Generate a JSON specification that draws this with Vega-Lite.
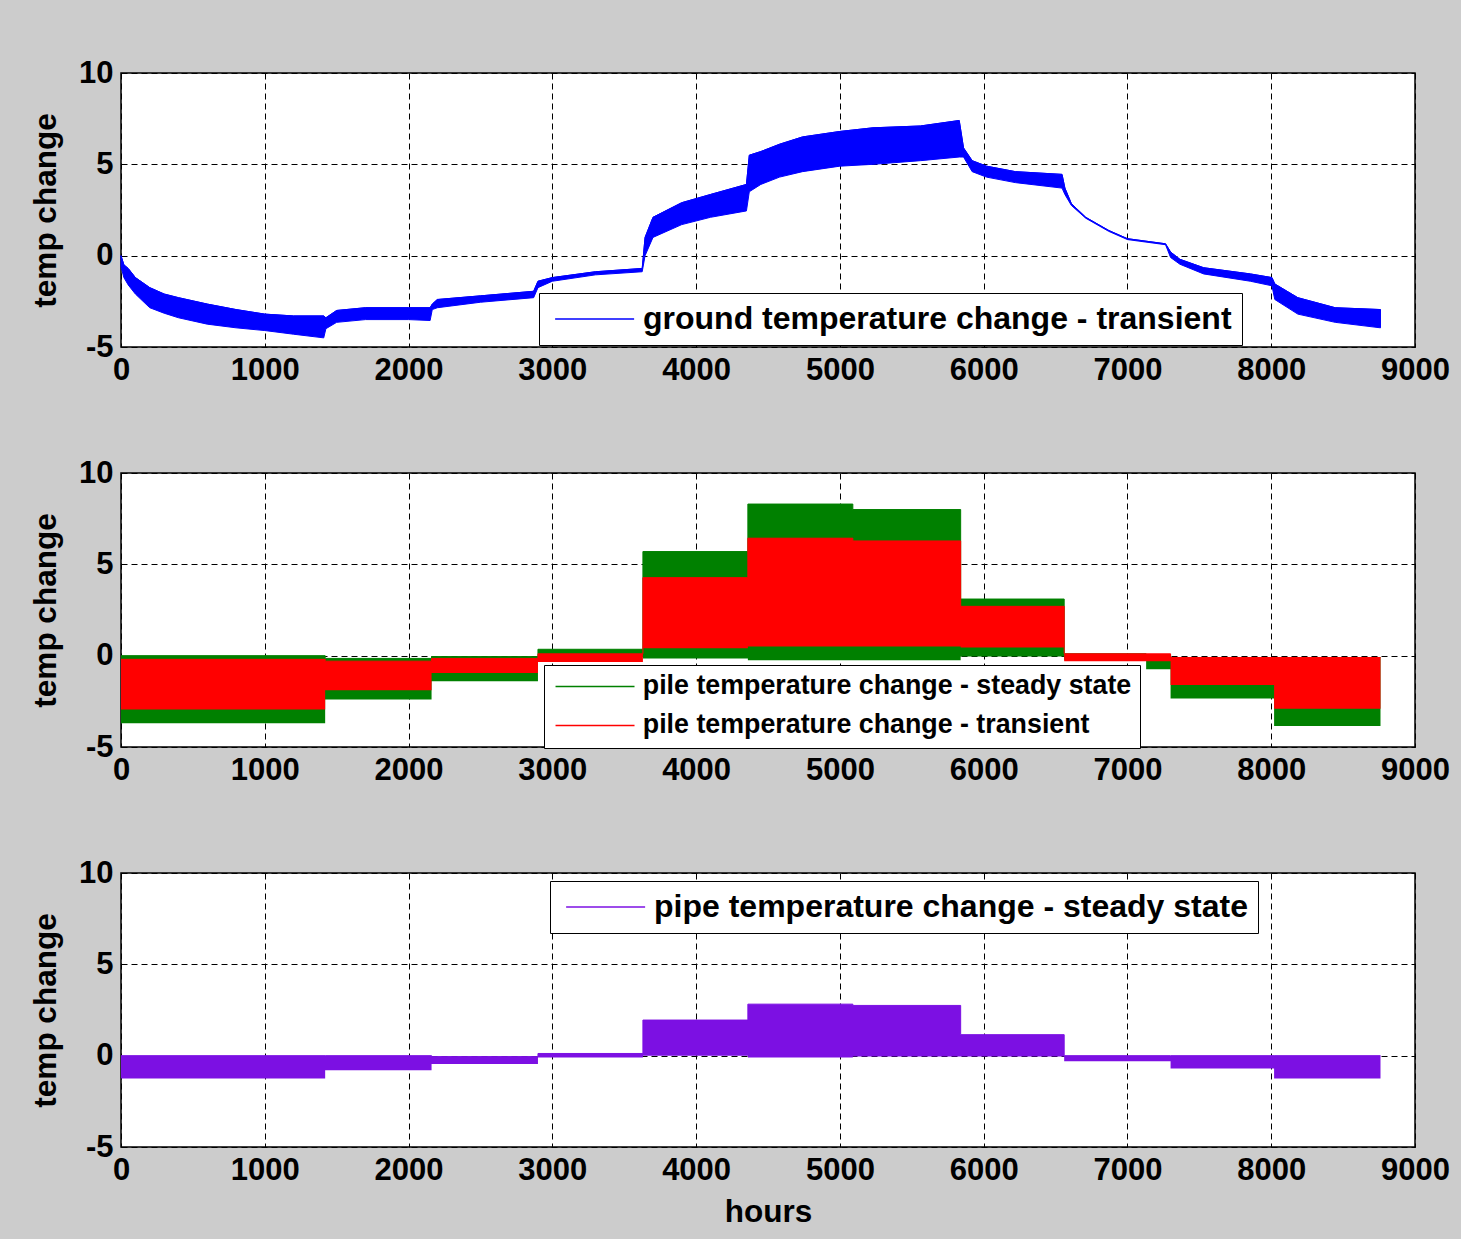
{
  "$schema": "https://vega.github.io/schema/vega-lite/v6.json",
  "background": "#cccccc",
  "padding": {"left": 29, "top": 56, "right": 10, "bottom": 10},
  "spacing": 126,
  "bounds": "flush",
  "resolve": {"scale": {"color": "independent"}, "legend": {"color": "independent"}},
  "config": {
    "font": "Liberation Sans",
    "view": {"fill": "white", "stroke": "black", "strokeWidth": 1.5},
    "axis": {
      "labelFont": "Liberation Sans", "labelFontSize": 31, "labelFontWeight": "bold", "labelColor": "black",
      "titleFont": "Liberation Sans", "titleFontSize": 31.5, "titleFontWeight": "bold", "titleColor": "black",
      "grid": true, "gridColor": "black", "gridDash": [6, 4], "gridOpacity": 1, "gridWidth": 1,
      "ticks": false, "domain": false, "labelPadding": 8, "labelFlush": false, "labelOverlap": false,
      "labelExpr": "'' + datum.value"
    },
    "axisY": {"titlePadding": 16},
    "axisX": {"titlePadding": 11},
    "legend": {
      "labelFont": "Liberation Sans", "labelFontWeight": "bold", "labelColor": "black", "labelLimit": 1200,
      "symbolType": "M-1,0H7", "symbolSize": 390, "symbolStrokeWidth": 1.5, "labelOffset": 62,
      "strokeColor": "black", "fillColor": "white"
    }
  },
  "datasets": {
    "ground": [
      {"x": 0, "lo": -0.6, "hi": 0},
      {"x": 20, "lo": -1.2, "hi": -0.5},
      {"x": 50, "lo": -1.6, "hi": -0.7},
      {"x": 100, "lo": -2.1, "hi": -1.2},
      {"x": 200, "lo": -2.85, "hi": -1.75},
      {"x": 300, "lo": -3.15, "hi": -2.1},
      {"x": 400, "lo": -3.4, "hi": -2.3},
      {"x": 600, "lo": -3.75, "hi": -2.65},
      {"x": 800, "lo": -3.95, "hi": -2.95},
      {"x": 1000, "lo": -4.1, "hi": -3.2},
      {"x": 1200, "lo": -4.3, "hi": -3.3},
      {"x": 1410, "lo": -4.5, "hi": -3.3},
      {"x": 1425, "lo": -4.0, "hi": -3.4},
      {"x": 1500, "lo": -3.65, "hi": -3.0},
      {"x": 1700, "lo": -3.5, "hi": -2.85},
      {"x": 2000, "lo": -3.5, "hi": -2.85},
      {"x": 2150, "lo": -3.55, "hi": -2.85},
      {"x": 2165, "lo": -2.95, "hi": -2.65},
      {"x": 2200, "lo": -2.85, "hi": -2.4},
      {"x": 2500, "lo": -2.55, "hi": -2.2},
      {"x": 2870, "lo": -2.3, "hi": -1.95},
      {"x": 2900, "lo": -1.75, "hi": -1.4},
      {"x": 3000, "lo": -1.4, "hi": -1.2},
      {"x": 3300, "lo": -1.05, "hi": -0.88},
      {"x": 3625, "lo": -0.88, "hi": -0.7},
      {"x": 3645, "lo": 0.0, "hi": 1.0},
      {"x": 3700, "lo": 1.0, "hi": 2.1},
      {"x": 3900, "lo": 1.7, "hi": 2.9},
      {"x": 4100, "lo": 2.1, "hi": 3.35},
      {"x": 4350, "lo": 2.45, "hi": 3.9},
      {"x": 4370, "lo": 3.5, "hi": 5.5},
      {"x": 4450, "lo": 3.9, "hi": 5.7},
      {"x": 4580, "lo": 4.3, "hi": 6.1},
      {"x": 4740, "lo": 4.6, "hi": 6.5},
      {"x": 5000, "lo": 4.9, "hi": 6.8},
      {"x": 5230, "lo": 5.0, "hi": 7.0},
      {"x": 5560, "lo": 5.2, "hi": 7.1},
      {"x": 5830, "lo": 5.4, "hi": 7.4},
      {"x": 5860, "lo": 5.4, "hi": 5.9},
      {"x": 5920, "lo": 4.6, "hi": 5.2},
      {"x": 6020, "lo": 4.3, "hi": 4.9},
      {"x": 6220, "lo": 4.0, "hi": 4.6},
      {"x": 6545, "lo": 3.7, "hi": 4.45},
      {"x": 6565, "lo": 3.35, "hi": 3.7},
      {"x": 6610, "lo": 2.75, "hi": 2.85},
      {"x": 6710, "lo": 2.05, "hi": 2.1},
      {"x": 6870, "lo": 1.33, "hi": 1.38},
      {"x": 7000, "lo": 0.88, "hi": 0.93},
      {"x": 7265, "lo": 0.6, "hi": 0.65},
      {"x": 7300, "lo": -0.1, "hi": 0.2},
      {"x": 7365, "lo": -0.47, "hi": -0.2},
      {"x": 7530, "lo": -1.0, "hi": -0.66},
      {"x": 7855, "lo": -1.4, "hi": -1.0},
      {"x": 8005, "lo": -1.65, "hi": -1.2},
      {"x": 8025, "lo": -2.4, "hi": -1.55},
      {"x": 8185, "lo": -3.2, "hi": -2.3},
      {"x": 8445, "lo": -3.65, "hi": -2.85},
      {"x": 8760, "lo": -3.95, "hi": -2.95}
    ],
    "pileSS": [
      {"x": 0, "lo": -3.7, "hi": 0},
      {"x": 1420, "lo": -2.4, "hi": -0.15},
      {"x": 2160, "lo": -1.4, "hi": -0.05},
      {"x": 2900, "lo": -0.05, "hi": 0.35},
      {"x": 3630, "lo": -0.15, "hi": 5.7},
      {"x": 4360, "lo": -0.25, "hi": 8.3},
      {"x": 5090, "lo": -0.25, "hi": 8.0},
      {"x": 5840, "lo": -0.05, "hi": 3.1},
      {"x": 6560, "lo": -0.25, "hi": 0.1},
      {"x": 7130, "lo": -0.75, "hi": 0.05},
      {"x": 7300, "lo": -2.35, "hi": -0.1},
      {"x": 8020, "lo": -3.85, "hi": -0.1},
      {"x": 8760, "lo": -3.85, "hi": -0.1}
    ],
    "pileTr": [
      {"x": 0, "lo": -2.95, "hi": -0.2},
      {"x": 1420, "lo": -1.9, "hi": -0.3},
      {"x": 2160, "lo": -0.95, "hi": -0.15},
      {"x": 2900, "lo": -0.35, "hi": 0.1},
      {"x": 3630, "lo": 0.4, "hi": 4.27},
      {"x": 4360, "lo": 0.5, "hi": 6.43},
      {"x": 5090, "lo": 0.5, "hi": 6.28},
      {"x": 5840, "lo": 0.45, "hi": 2.7},
      {"x": 6560, "lo": -0.3, "hi": 0.1},
      {"x": 7300, "lo": -1.6, "hi": -0.1},
      {"x": 8020, "lo": -2.9, "hi": -0.1},
      {"x": 8760, "lo": -2.9, "hi": -0.1}
    ],
    "pipe": [
      {"x": 0, "lo": -1.25, "hi": 0},
      {"x": 1420, "lo": -0.8, "hi": 0},
      {"x": 2160, "lo": -0.45, "hi": -0.05},
      {"x": 2900, "lo": -0.1, "hi": 0.12},
      {"x": 3630, "lo": 0, "hi": 1.95},
      {"x": 4360, "lo": -0.1, "hi": 2.82},
      {"x": 5090, "lo": -0.05, "hi": 2.75},
      {"x": 5840, "lo": -0.05, "hi": 1.15},
      {"x": 6560, "lo": -0.3, "hi": 0},
      {"x": 7300, "lo": -0.7, "hi": 0},
      {"x": 8020, "lo": -1.25, "hi": 0},
      {"x": 8760, "lo": -1.25, "hi": 0}
    ]
  },
  "vconcat": [
    {
      "width": 1294, "height": 274,
      "data": {"name": "ground"},
      "layer": [
        {
          "mark": {"type": "area", "color": "#0000ff", "stroke": "#0000ff", "strokeWidth": 1, "opacity": 1},
          "encoding": {
            "x": {"field": "x", "type": "quantitative", "scale": {"domain": [0, 9000], "nice": false}, "axis": {"values": [0,1000,2000,3000,4000,5000,6000,7000,8000,9000], "title": null}},
            "y": {"field": "lo", "type": "quantitative", "scale": {"domain": [-5, 10], "nice": false}, "axis": {"values": [-5, 0, 5, 10], "title": "temp change"}},
            "y2": {"field": "hi"}
          }
        },
        {
          "mark": {"type": "line", "strokeWidth": 1},
          "encoding": {
            "x": {"field": "x", "type": "quantitative", "scale": {"domain": [0, 9000], "nice": false}, "axis": {"values": [0,1000,2000,3000,4000,5000,6000,7000,8000,9000], "title": null}},
            "y": {"field": "hi", "type": "quantitative", "scale": {"domain": [-5, 10], "nice": false}, "axis": {"values": [-5, 0, 5, 10], "title": "temp change"}},
            "color": {
              "datum": "ground temperature change - transient",
              "scale": {"domain": ["ground temperature change - transient"], "range": ["#0000ff"]},
              "legend": {"orient": "none", "legendX": 418, "legendY": 220, "title": null, "labelFontSize": 32, "padding": 10}
            }
          }
        }
      ]
    },
    {
      "width": 1294, "height": 274,
      "layer": [
        {
          "data": {"name": "pileSS"},
          "mark": {"type": "area", "color": "#008000", "interpolate": "step-after", "opacity": 1},
          "encoding": {
            "x": {"field": "x", "type": "quantitative", "scale": {"domain": [0, 9000], "nice": false}, "axis": {"values": [0,1000,2000,3000,4000,5000,6000,7000,8000,9000], "title": null}},
            "y": {"field": "lo", "type": "quantitative", "scale": {"domain": [-5, 10], "nice": false}, "axis": {"values": [-5, 0, 5, 10], "title": "temp change"}},
            "y2": {"field": "hi"}
          }
        },
        {
          "data": {"name": "pileSS"},
          "mark": {"type": "line", "strokeWidth": 1, "interpolate": "step-after"},
          "encoding": {
            "x": {"field": "x", "type": "quantitative", "scale": {"domain": [0, 9000], "nice": false}, "axis": {"values": [0,1000,2000,3000,4000,5000,6000,7000,8000,9000], "title": null}},
            "y": {"field": "hi", "type": "quantitative", "scale": {"domain": [-5, 10], "nice": false}, "axis": {"values": [-5, 0, 5, 10], "title": "temp change"}},
            "color": {
              "datum": "pile temperature change - steady state",
              "scale": {"domain": ["pile temperature change - steady state", "pile temperature change - transient"], "range": ["#008000", "#ff0000"]},
              "legend": {"orient": "none", "legendX": 423, "legendY": 192, "title": null, "labelFontSize": 26.8, "padding": 8, "rowPadding": 11, "labelOffset": 64}
            }
          }
        },
        {
          "data": {"name": "pileTr"},
          "mark": {"type": "area", "color": "#ff0000", "interpolate": "step-after", "opacity": 1},
          "encoding": {
            "x": {"field": "x", "type": "quantitative"},
            "y": {"field": "lo", "type": "quantitative"},
            "y2": {"field": "hi"}
          }
        },
        {
          "data": {"name": "pileTr"},
          "mark": {"type": "line", "strokeWidth": 1, "interpolate": "step-after"},
          "encoding": {
            "x": {"field": "x", "type": "quantitative"},
            "y": {"field": "hi", "type": "quantitative"},
            "color": {"datum": "pile temperature change - transient"}
          }
        }
      ]
    },
    {
      "width": 1294, "height": 274,
      "data": {"name": "pipe"},
      "layer": [
        {
          "mark": {"type": "area", "color": "#7c10e3", "interpolate": "step-after", "opacity": 1},
          "encoding": {
            "x": {"field": "x", "type": "quantitative", "scale": {"domain": [0, 9000], "nice": false}, "axis": {"values": [0,1000,2000,3000,4000,5000,6000,7000,8000,9000], "title": "hours"}},
            "y": {"field": "lo", "type": "quantitative", "scale": {"domain": [-5, 10], "nice": false}, "axis": {"values": [-5, 0, 5, 10], "title": "temp change"}},
            "y2": {"field": "hi"}
          }
        },
        {
          "mark": {"type": "line", "strokeWidth": 1, "interpolate": "step-after"},
          "encoding": {
            "x": {"field": "x", "type": "quantitative", "scale": {"domain": [0, 9000], "nice": false}, "axis": {"values": [0,1000,2000,3000,4000,5000,6000,7000,8000,9000], "title": "hours"}},
            "y": {"field": "hi", "type": "quantitative", "scale": {"domain": [-5, 10], "nice": false}, "axis": {"values": [-5, 0, 5, 10], "title": "temp change"}},
            "color": {
              "datum": "pipe temperature change - steady state",
              "scale": {"domain": ["pipe temperature change - steady state"], "range": ["#7c10e3"]},
              "legend": {"orient": "none", "legendX": 429, "legendY": 8, "title": null, "labelFontSize": 32, "padding": 10}
            }
          }
        }
      ]
    }
  ]
}
